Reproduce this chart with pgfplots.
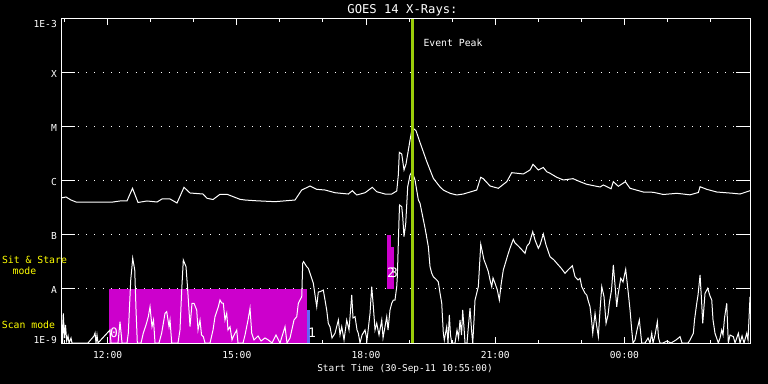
\documentclass[border=0pt]{standalone}
\usepackage{pgfplots}
\pgfplotsset{compat=1.18}
\usepackage{pgfplotstable}
\usepackage{fontspec}
\setmainfont{DejaVu Sans Mono}
\definecolor{mag}{RGB}{204,0,204}
\definecolor{peak}{RGB}{155,205,10}
\definecolor{bluebar}{RGB}{95,105,245}
\definecolor{lab}{RGB}{255,255,0}

% long channel (1-8 A): hour, log10 flux
\pgfplotstableread{
h L
10.917 -6.315
11.033 -6.296
11.149 -6.352
11.265 -6.389
11.706 -6.389
12.124 -6.389
12.287 -6.370
12.449 -6.370
12.577 -6.135
12.705 -6.398
12.914 -6.370
13.146 -6.389
13.262 -6.333
13.448 -6.333
13.611 -6.407
13.773 -6.117
13.912 -6.222
14.214 -6.241
14.307 -6.320
14.447 -6.343
14.609 -6.246
14.772 -6.246
15.073 -6.339
15.190 -6.352
15.422 -6.365
15.886 -6.383
16.351 -6.352
16.506 -6.167
16.699 -6.093
16.855 -6.154
17.048 -6.167
17.280 -6.217
17.589 -6.241
17.682 -6.180
17.784 -6.259
17.977 -6.217
18.146 -6.117
18.248 -6.198
18.441 -6.241
18.597 -6.241
18.713 -6.185
18.750 -5.889
18.773 -5.469
18.829 -5.500
18.882 -5.796
18.929 -5.685
19.022 -5.241
19.075 -5.009
19.161 -5.069
19.254 -5.287
19.410 -5.639
19.563 -5.950
19.719 -6.111
19.795 -6.167
19.951 -6.228
20.106 -6.259
20.260 -6.241
20.571 -6.167
20.664 -5.931
20.724 -5.957
20.880 -6.093
21.073 -6.135
21.268 -6.013
21.384 -5.846
21.653 -5.870
21.809 -5.796
21.878 -5.691
22.001 -5.796
22.117 -5.750
22.196 -5.828
22.273 -5.857
22.429 -5.931
22.582 -5.981
22.807 -5.957
22.970 -6.013
23.125 -6.061
23.434 -6.111
23.511 -6.074
23.690 -6.144
23.743 -6.013
23.859 -6.098
24.022 -6.013
24.131 -6.135
24.440 -6.204
24.672 -6.209
24.904 -6.250
25.215 -6.228
25.524 -6.256
25.717 -6.213
25.757 -6.106
25.912 -6.154
26.145 -6.204
26.530 -6.228
26.685 -6.241
26.917 -6.180
}\longch

% short channel (0.5-4 A): hour, log10 flux
\pgfplotstableread{
h L
10.917 -9.000
10.929 -8.574
10.952 -9.000
10.970 -8.450
10.998 -8.907
11.021 -8.667
11.049 -8.963
11.080 -8.870
11.103 -9.000
11.149 -8.907
11.172 -9.000
11.544 -9.000
11.683 -8.870
11.707 -8.815
11.730 -9.000
11.753 -8.852
11.776 -9.000
12.055 -8.759
12.078 -9.000
12.241 -9.000
12.287 -8.606
12.334 -9.000
12.450 -9.000
12.480 -8.815
12.536 -7.833
12.582 -7.431
12.629 -7.648
12.659 -8.389
12.689 -9.000
12.775 -9.000
12.828 -8.815
12.891 -8.667
12.944 -8.513
12.984 -8.328
13.030 -8.698
13.065 -8.574
13.100 -9.000
13.193 -9.000
13.255 -8.815
13.332 -8.450
13.372 -8.420
13.425 -8.698
13.448 -8.574
13.488 -9.000
13.634 -9.000
13.680 -8.759
13.720 -8.019
13.757 -7.463
13.820 -7.587
13.859 -8.019
13.913 -8.698
13.959 -8.265
14.006 -8.265
14.068 -8.389
14.099 -8.759
14.145 -8.574
14.180 -8.852
14.222 -8.883
14.261 -9.000
14.377 -9.000
14.447 -8.759
14.493 -8.513
14.570 -8.328
14.609 -8.204
14.649 -8.259
14.686 -8.265
14.725 -8.574
14.765 -8.450
14.795 -8.759
14.842 -8.698
14.888 -8.944
14.918 -8.883
14.997 -8.759
15.027 -9.000
15.144 -9.000
15.190 -8.852
15.260 -8.574
15.306 -8.357
15.346 -8.820
15.399 -8.944
15.492 -8.870
15.562 -8.963
15.654 -8.907
15.731 -8.944
15.817 -9.000
15.910 -8.852
16.003 -9.000
16.119 -8.698
16.165 -9.000
16.235 -8.907
16.328 -8.574
16.391 -8.513
16.428 -8.265
16.467 -8.204
16.507 -8.143
16.530 -7.524
16.549 -7.494
16.623 -7.587
16.660 -7.617
16.699 -7.709
16.776 -7.894
16.855 -8.328
16.892 -8.056
16.932 -8.050
17.008 -8.019
17.087 -8.389
17.124 -8.635
17.164 -8.698
17.210 -8.907
17.280 -8.820
17.357 -8.574
17.396 -8.852
17.436 -8.698
17.489 -8.944
17.552 -8.574
17.605 -8.759
17.668 -8.111
17.698 -8.537
17.745 -8.513
17.791 -8.759
17.821 -8.820
17.861 -9.000
17.907 -8.852
17.977 -8.759
18.023 -8.944
18.093 -8.450
18.132 -7.957
18.170 -8.328
18.209 -8.759
18.248 -8.635
18.302 -8.852
18.365 -8.574
18.395 -8.907
18.481 -8.513
18.511 -8.759
18.557 -8.389
18.597 -8.265
18.634 -8.204
18.673 -8.204
18.713 -7.957
18.727 -7.772
18.766 -6.722
18.778 -6.444
18.829 -6.476
18.852 -6.661
18.882 -7.031
18.922 -6.783
18.968 -6.106
19.022 -5.889
19.068 -5.828
19.138 -5.981
19.215 -6.352
19.254 -6.413
19.370 -6.870
19.447 -7.217
19.486 -7.587
19.526 -7.709
19.563 -7.772
19.602 -7.802
19.642 -7.833
19.679 -7.870
19.719 -8.080
19.758 -8.265
19.795 -8.820
19.818 -8.944
19.874 -8.698
19.904 -9.000
19.934 -8.481
19.962 -8.852
19.990 -9.000
20.067 -9.000
20.113 -8.759
20.148 -8.907
20.183 -8.574
20.218 -8.852
20.245 -8.389
20.276 -8.722
20.299 -9.000
20.345 -9.000
20.380 -8.667
20.415 -8.357
20.450 -8.759
20.478 -9.000
20.508 -8.574
20.531 -8.204
20.608 -7.957
20.664 -7.172
20.740 -7.463
20.786 -7.556
20.840 -7.680
20.880 -7.833
20.919 -7.957
20.949 -7.796
20.996 -7.894
21.049 -8.019
21.096 -8.204
21.135 -7.926
21.188 -7.648
21.304 -7.339
21.344 -7.241
21.420 -7.080
21.460 -7.148
21.536 -7.204
21.623 -7.278
21.692 -7.339
21.739 -7.204
21.792 -7.154
21.871 -6.939
21.925 -7.093
22.001 -7.246
22.041 -7.185
22.117 -6.981
22.180 -7.185
22.273 -7.402
22.366 -7.463
22.466 -7.556
22.528 -7.611
22.621 -7.709
22.691 -7.648
22.791 -7.569
22.853 -7.772
22.923 -7.833
22.970 -7.802
23.009 -7.957
23.086 -8.080
23.125 -8.111
23.155 -8.204
23.202 -8.328
23.237 -8.574
23.265 -8.820
23.318 -8.450
23.353 -8.667
23.395 -8.883
23.434 -8.389
23.474 -7.957
23.527 -8.143
23.574 -8.635
23.620 -8.481
23.650 -8.265
23.701 -8.019
23.743 -7.556
23.782 -7.926
23.822 -8.328
23.852 -8.111
23.915 -7.802
23.968 -7.870
24.030 -7.635
24.091 -8.080
24.131 -8.389
24.170 -8.759
24.200 -9.000
24.247 -8.944
24.293 -8.759
24.347 -8.574
24.402 -9.000
24.479 -9.000
24.549 -8.907
24.595 -9.000
24.635 -8.820
24.665 -9.000
24.711 -8.852
24.765 -8.606
24.793 -8.907
24.827 -9.000
24.897 -9.000
24.990 -8.963
25.083 -9.000
25.199 -8.944
25.292 -8.883
25.338 -9.000
25.478 -9.000
25.524 -8.944
25.601 -8.820
25.628 -8.574
25.680 -8.265
25.710 -8.111
25.757 -7.741
25.791 -8.204
25.819 -8.635
25.872 -8.080
25.935 -7.987
25.988 -8.130
26.028 -8.204
26.058 -8.574
26.104 -8.820
26.181 -9.000
26.221 -8.907
26.260 -8.759
26.290 -8.852
26.325 -8.537
26.376 -8.265
26.413 -9.000
26.453 -8.852
26.530 -8.883
26.569 -9.000
26.646 -8.820
26.685 -9.000
26.732 -8.870
26.778 -9.000
26.841 -8.820
26.871 -8.944
26.917 -8.143
}\shortch

\begin{document}
\begin{tikzpicture}
\fill[black] (0,0) rectangle (768bp,384bp);
\begin{axis}[
  at={(61bp,41bp)}, anchor=south west, scale only axis,
  width=689bp, height=324bp,
  xmin=10.9167, xmax=26.9167, ymin=-9, ymax=-3,
  axis line style={white, line width=1bp},
  xtick={12,15,18,21,24},
  xticklabels={12:00,15:00,18:00,21:00,00:00},
  minor xtick={11,...,26},
  xtick pos=both,
  ytick={-9,-8,-7,-6,-5,-4,-3},
  yticklabels={\raisebox{4.3bp}{1E-9},A,B,C,M,X,\raisebox{-3.7bp}{1E-3}},
  tick align=inside,
  major tick length=6bp, minor tick length=3.3bp,
  xtick style={white, line width=1bp},
  ytick style={draw=none},
  ymajorgrids,
  grid style={white, line width=1bp, dash pattern=on 1bp off 7.3bp},
  tick label style={text=white, font=\fontsize{9.6bp}{11bp}\selectfont},
  xticklabel style={anchor=base, inner sep=0pt, yshift=-15.3bp},
  yticklabel style={anchor=base east, inner sep=0pt, xshift=-4bp, yshift=-4.6bp},
]
% observing-mode blocks
\addplot[fill=mag, draw=none] coordinates {(12.032,-9) (12.032,-8) (16.630,-8) (16.630,-9)} -- cycle;
\addplot[fill=bluebar, draw=none] coordinates {(16.630,-9) (16.630,-8.389) (16.699,-8.389) (16.699,-9)} -- cycle;
\addplot[fill=mag, draw=none] coordinates {(18.488,-8) (18.488,-7.222) (18.650,-7.222) (18.650,-8)} -- cycle;
\addplot[fill=mag, draw=none] coordinates {(18.488,-7.222) (18.488,-7) (18.581,-7) (18.581,-7.222)} -- cycle;
% solid y tick segments on both sides (14 px = 0.325 h)
\pgfplotsinvokeforeach{-8,-7,-6,-5,-4}{
  \draw[white, line width=1bp] (axis cs:10.9167,#1) -- (axis cs:11.2418,#1);
  \draw[white, line width=1bp] (axis cs:26.5916,#1) -- (axis cs:26.9167,#1);
}
% GOES curves
\addplot[white, line width=1bp, sharp plot] table[x=h, y=L] {\longch};
\addplot[white, line width=1bp, sharp plot] table[x=h, y=L] {\shortch};
% event peak
\addplot[peak, line width=2.7bp] coordinates {(19.075,-9) (19.075,-3)};
\end{axis}
% annotations
\node[anchor=base, text=white, font=\fontsize{12.2bp}{14bp}\selectfont] at (402.5bp,370.7bp) {GOES 14 X-Rays:};
\node[anchor=base, text=white, font=\fontsize{9.4bp}{11bp}\selectfont] at (405bp,12.3bp) {Start Time (30-Sep-11 10:55:00)};
\node[anchor=base, text=white, font=\fontsize{9.8bp}{11bp}\selectfont] at (453bp,337.3bp) {Event Peak};
\node[anchor=base, text=lab, font=\fontsize{9.8bp}{11bp}\selectfont] at (34.5bp,120.7bp) {Sit \& Stare};
\node[anchor=base, text=lab, font=\fontsize{9.8bp}{11bp}\selectfont] at (24.5bp,109bp) {mode};
\node[anchor=base, text=lab, font=\fontsize{9.8bp}{11bp}\selectfont] at (28.5bp,55.7bp) {Scan mode};
\node[anchor=base, text=white, font=\fontsize{13bp}{14bp}\selectfont] at (114bp,46bp) {0};
\node[anchor=base, text=white, font=\fontsize{13bp}{14bp}\selectfont] at (312bp,46bp) {1};
\node[anchor=base, text=white, font=\fontsize{13bp}{14bp}\selectfont] at (391bp,106bp) {2};
\node[anchor=base, text=white, font=\fontsize{13bp}{14bp}\selectfont] at (394bp,106bp) {3};
\pgfresetboundingbox
\useasboundingbox (0,0) rectangle (768bp,384bp);
\end{tikzpicture}
\end{document}
